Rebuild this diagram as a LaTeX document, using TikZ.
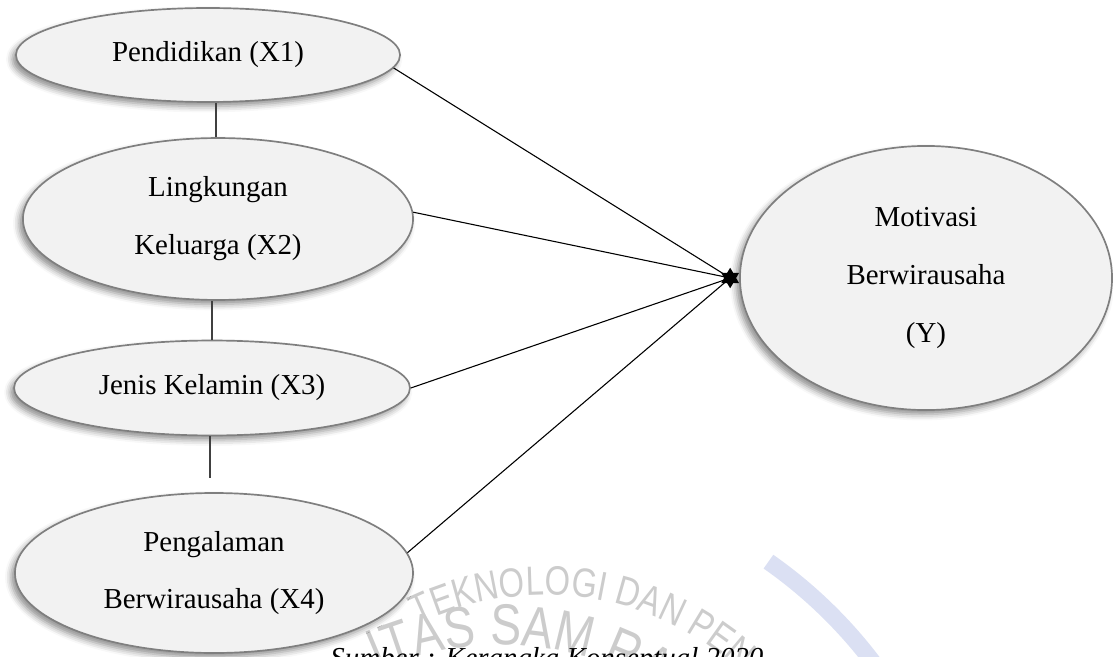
\documentclass[tikz,border=0pt]{standalone}
\usepackage{xcolor}
\usepackage{fontspec}
\setmainfont{Liberation Serif}
\newfontfamily\markfont[FakeStretch=0.8]{Liberation Sans}
\usetikzlibrary{shapes.geometric,shadows.blur,positioning,decorations.text}
\definecolor{varfill}{HTML}{F2F2F2}
\definecolor{varline}{HTML}{7F7F7F}
\definecolor{markblue}{RGB}{219,224,243}

\begin{document}
\begin{tikzpicture}[x=0.415pt,y=-0.415pt]
        \tikzstyle{every node}+=[inner sep=0pt]
        \tikzstyle{var}=[ellipse, draw=varline, line width=0.7pt, fill=varfill,
            blur shadow={shadow xshift=-1.6pt,shadow yshift=-1.8pt,shadow blur radius=2.5pt,shadow opacity=45},
            align=center, font=\fontsize{12}{24}\selectfont]
        \tikzstyle{link}=[black, line width=0.45pt]
        \tikzstyle{tie}=[black!75, line width=0.6pt]
        \useasboundingbox (0,0) rectangle (1113,657);
        \clip (0,0) rectangle (1113,657);
        % watermark
        \draw [markblue, line width=7pt] (500,945) ++(-55:468) arc (-55:-28:468);
        \path [decorate, decoration={text along path, text color=gray!40,
            text={|\markfont\fontsize{17}{17}\selectfont|TEKNOLOGI DAN PEN}}]
            (545,885) ++(-116:290) arc (-116:-40:290);
        \path [decorate, decoration={text along path, text color=gray!40,
            text={|\markfont\fontsize{24}{24}\selectfont|ITAS SAM RATULANGI}}]
            (500,945) ++(-114:300) arc (-114:-20:300);
        % variables
        \node [var, minimum width=159.4pt, minimum height=39pt] (x1) at (208,55) {Pendidikan (X1)};
        \node [var, minimum width=161.9pt, minimum height=67.2pt] (x2) at (218,219) {Lingkungan\\Keluarga (X2)};
        \node [var, minimum width=164.3pt, minimum height=39.4pt] (x3) at (212,388) {Jenis Kelamin (X3)};
        \node [var, minimum width=165.2pt, minimum height=66.4pt] (x4) at (214,573) {Pengalaman\\Berwirausaha (X4)};
        \node [var, minimum width=154.4pt, minimum height=109.6pt] (y) at (926,278) {Motivasi\\Berwirausaha\\(Y)};
        \node [star, star points=6, star point ratio=1.7, fill=black, minimum size=8.5pt, left=1pt of y] (tip) {};
        % links
        \draw [link] (x1.-4) -- (tip.center);
        \draw [link] (x2.2) -- (tip.center);
        \draw [link] (x3.east) -- (tip.center);
        \draw [link] (x4.6) -- (tip.center);
        \path ([xshift=3.3pt]x1.south) coordinate (a1)
              ([xshift=-2.5pt]x2.south) coordinate (a2)
              ([xshift=-0.8pt]x3.south) coordinate (a3);
        \draw [tie] (a1) -- (a1 |- x2.north);
        \draw [tie] (a2) -- (a2 |- x3.north);
        \draw [tie] (a3) -- ++(0,42);
        \node [anchor=base west, font=\fontsize{12}{14}\selectfont\itshape] (src) at (330,667) {Sumber : Kerangka Konseptual 2020};
    \end{tikzpicture}
\end{document}
